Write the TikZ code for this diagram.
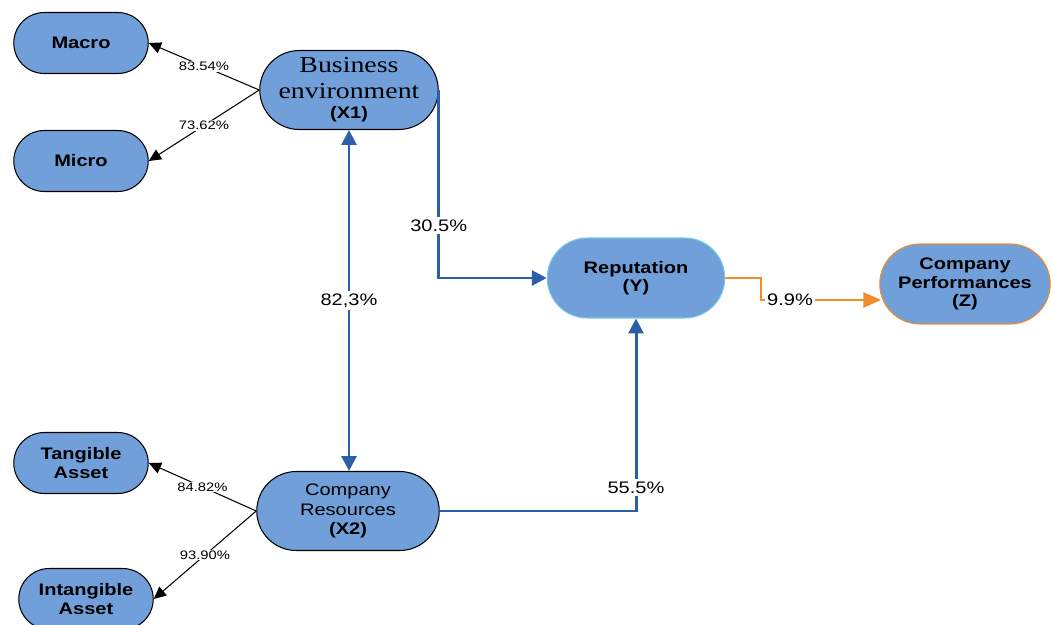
\documentclass[tikz,border=0pt]{standalone}
\usepackage{fontspec}
\setmainfont{Liberation Sans}[FakeStretch=1.2]
\newfontfamily\timesfont{Liberation Serif}[FakeStretch=1.22]
\usetikzlibrary{shapes.misc,arrows.meta}
\definecolor{boxblue}{RGB}{112,159,218}
\definecolor{linkblue}{RGB}{44,95,168}
\definecolor{linkorange}{RGB}{242,140,40}
\definecolor{edgecyan}{RGB}{120,200,225}

\begin{document}
\begin{tikzpicture}[x=0.02cm, y=-0.02cm,
		latent/.style={rounded rectangle, draw=black, line width=0.6pt, fill=boxblue, minimum width=2.76cm, minimum height=1.22cm, align=center, inner sep=1pt, font=\bfseries\fontsize{9.5}{10.5}\selectfont},
		load/.style={-{Triangle[length=7pt,width=6.5pt]}, line width=0.6pt, black},
		link/.style={line width=1.7pt, color=linkblue},
		pct/.style={fill=white, inner sep=0.5pt, text=black, font=\fontsize{7}{8}\selectfont},
		coef/.style={fill=white, inner sep=1.5pt, text=black, font=\fontsize{9.5}{11}\selectfont}]

		\useasboundingbox (0,0) rectangle (1051,625);

		\node[latent] (macro) at (81,43) {Macro};
		\node[latent] (micro) at (81,161) {Micro};
		\node[latent] (tang) at (81,463) {Tangible\\Asset};
		\node[latent] (intang) at (86,599) {Intangible\\Asset};

		\node[latent, minimum width=3.64cm, minimum height=1.58cm, font=\timesfont\fontsize{13}{14.5}\selectfont] (x1) at (349,90) {Business\\environment\\[-3pt]\normalfont\bfseries\fontsize{9.5}{11}\selectfont (X1)};
		\node[latent, minimum width=3.72cm, minimum height=1.58cm, font=\fontsize{9.5}{11.3}\selectfont] (x2) at (348,511) {Company\\Resources\\\textbf{(X2)}};
		\node[latent, draw=edgecyan, minimum width=3.62cm, minimum height=1.6cm] (rep) at (636,278) {Reputation\\(Y)};
		\node[latent, draw=linkorange, minimum width=3.48cm, minimum height=1.6cm] (perf) at (965,284) {Company\\Performances\\(Z)};

		\draw[load] (x1.west) -- node[pct] {83.54\%} (macro.east);
		\draw[load] (x1.west) -- node[pct] {73.62\%} (micro.east);
		\draw[load] (x2.west) -- node[pct] {84.82\%} (tang.east);
		\draw[load] (x2.west) -- node[pct] {93.90\%} (intang.east);

		\draw[link, {Triangle[length=8.5pt,width=8.5pt]}-{Triangle[length=8.5pt,width=8.5pt]}] (x1.south) -- node[coef] {82,3\%} (x1.south |- x2.north);
		\draw[link, -{Triangle[length=8.5pt,width=8.5pt]}] (x1.east) |- node[coef, pos=0.36] {30.5\%} (rep.west);
		\draw[link, -{Triangle[length=8.5pt,width=8.5pt]}] (x2.east) -| node[coef, pos=0.56] {55.5\%} (rep.south);

		\coordinate (zin) at (881,300);
		\draw[line width=1.4pt, color=linkorange, -{Triangle[length=10pt,width=8.5pt]}] (rep.east) -- ++(36,0) |- node[coef, pos=0.62] {9.9\%} (zin);
	\end{tikzpicture}
\end{document}
